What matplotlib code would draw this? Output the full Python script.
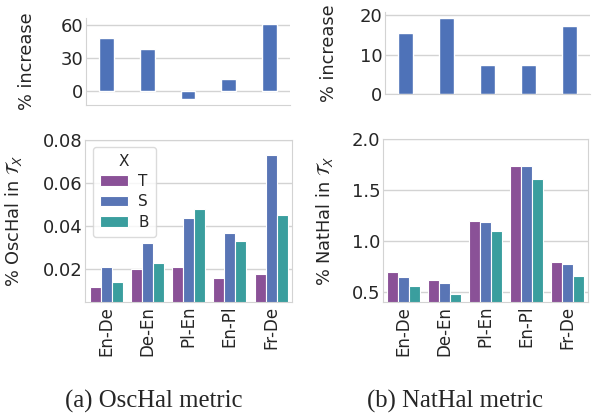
import matplotlib
matplotlib.use('Agg')
import matplotlib.pyplot as plt
import seaborn as sns
import numpy as np

sns.set_style('whitegrid')
plt.rcParams['font.family'] = ['DejaVu Sans']

pairs = ['En-De', 'De-En', 'Pl-En', 'En-Pl', 'Fr-De']
hue_names = ['T', 'S', 'B']

# (a) OscHal
osc_increase = [48.5, 38, -7.5, 10.6, 61]
osc_T = [0.012, 0.020, 0.021, 0.016, 0.018]
osc_S = [0.021, 0.032, 0.044, 0.037, 0.073]
osc_B = [0.014, 0.023, 0.048, 0.033, 0.045]

# (b) NatHal
nat_increase = [15.5, 19.3, 7.3, 7.5, 17.3]
nat_T = [0.69, 0.61, 1.20, 1.74, 0.79]
nat_S = [0.64, 0.58, 1.19, 1.74, 0.77]
nat_B = [0.55, 0.48, 1.10, 1.61, 0.655]

colors = ['#8a5197', '#5975b5', '#3a9e9e']
top_color = '#4e72b8'
grid_col = '#d3d3d3'

fig = plt.figure(figsize=(5.94, 4.13), dpi=100)

ax_a_top = fig.add_axes([0.1448, 0.7458, 0.3434, 0.2099])
ax_b_top = fig.add_axes([0.6481, 0.7712, 0.3451, 0.2005])
ax_a = fig.add_axes([0.1439, 0.2695, 0.3471, 0.3915])
ax_b = fig.add_axes([0.6453, 0.2695, 0.3446, 0.3932])

x = np.arange(len(pairs))


def top_panel(ax, vals, ylim, ticks, label_x):
    ax.bar(x, vals, width=0.36, color=top_color, zorder=2)
    ax.set_xlim(-0.5, len(pairs) - 0.5)
    ax.set_ylim(*ylim)
    ax.set_yticks(ticks)
    ax.set_xticks([])
    ax.grid(axis='y', color=grid_col, linewidth=1)
    ax.grid(axis='x', visible=False)
    for s in ['top', 'right']:
        ax.spines[s].set_visible(False)
    for s in ['left', 'bottom']:
        ax.spines[s].set_color(grid_col)
    ax.tick_params(axis='y', labelsize=13, pad=2, length=0, colors='#262626')
    ax.set_ylabel('% increase', fontsize=12.8, color='#262626')
    ax.yaxis.set_label_coords(label_x, 0.5)


def bottom_panel(ax, series, ylim, ticks, ticklabels, ylabel, label_x):
    w = 0.8 / 3
    for i, (vals, c, name) in enumerate(zip(series, colors, hue_names)):
        ax.bar(x + (i - 1) * w, vals, width=w, color=c, edgecolor='white',
               linewidth=0.8, label=name, zorder=2)
    ax.set_xlim(-0.5, len(pairs) - 0.5)
    ax.set_ylim(*ylim)
    ax.set_yticks(ticks)
    ax.set_yticklabels(ticklabels)
    ax.set_xticks(x)
    ax.set_xticklabels(pairs, rotation=90)
    ax.grid(axis='y', color=grid_col, linewidth=1)
    ax.grid(axis='x', visible=False)
    for s in ax.spines.values():
        s.set_color(grid_col)
    ax.tick_params(axis='y', labelsize=13, pad=2, length=0, colors='#262626')
    ax.tick_params(axis='x', labelsize=12, pad=3, length=0, colors='#262626')
    ax.set_ylabel(ylabel, fontsize=12.8, color='#262626')
    ax.yaxis.set_label_coords(label_x, 0.5)


top_panel(ax_a_top, osc_increase, (-12.7, 66), [0, 30, 60], -0.245)
top_panel(ax_b_top, nat_increase, (0, 20.8), [0, 10, 20], -0.23)

bottom_panel(ax_a, [osc_T, osc_S, osc_B], (0.005, 0.08),
             [0.02, 0.04, 0.06, 0.08], ['0.02', '0.04', '0.06', '0.08'],
             r'% OscHal in $\mathcal{T}_X$', -0.30)
bottom_panel(ax_b, [nat_T, nat_S, nat_B], (0.4, 2.0),
             [0.5, 1.0, 1.5, 2.0], ['0.5', '1.0', '1.5', '2.0'],
             r'% NatHal in $\mathcal{T}_X$', -0.235)

leg = ax_a.legend(title='X', loc='upper left', bbox_to_anchor=(0.035, 0.958),
                  borderaxespad=0, fontsize=11, title_fontsize=11,
                  handlelength=1.83, frameon=True, borderpad=0.45,
                  labelspacing=0.35, handletextpad=0.7)
leg.get_frame().set_edgecolor(grid_col)

fig.text(0.258, 0.028, '(a) OscHal metric', family='Liberation Serif',
         fontsize=17.8, ha='center', va='center')
fig.text(0.766, 0.028, '(b) NatHal metric', family='Liberation Serif',
         fontsize=17.8, ha='center', va='center')

fig.savefig('out.png', dpi=100)
